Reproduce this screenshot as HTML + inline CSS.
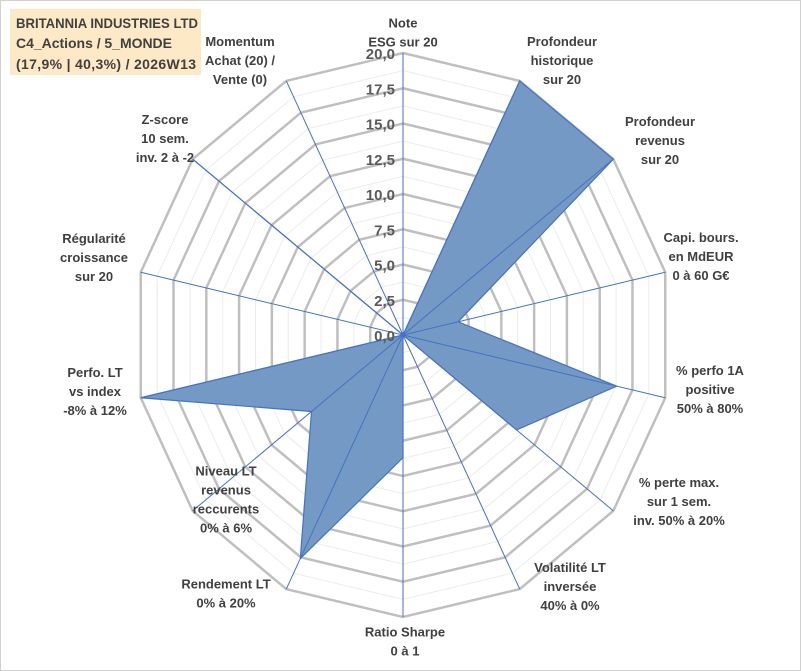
<!DOCTYPE html>
<html><head><meta charset="utf-8"><style>
body{margin:0;background:#fff}
svg{display:block;font-family:"Liberation Sans",Arial,sans-serif}
.lbl{font-size:13px;font-weight:bold;fill:#404040;text-anchor:middle}
.tick{font-size:15px;font-weight:bold;fill:#595959;text-anchor:end}
</style></head><body>
<svg id="chart" width="801" height="671">
<rect x="0.5" y="0.5" width="800" height="670" fill="#fff" stroke="#d0d0d0"/>
<rect x="10" y="9" width="191" height="66" fill="#fde9c6"/>
<text x="16" y="28" font-size="14" font-weight="bold" fill="#404040" textLength="182" lengthAdjust="spacingAndGlyphs">BRITANNIA  INDUSTRIES LTD</text>
<text x="16" y="48" font-size="14" font-weight="bold" fill="#404040" textLength="156">C4_Actions / 5_MONDE</text>
<text x="16" y="69" font-size="14" font-weight="bold" fill="#404040" textLength="180">(17,9% | 40,3%) / 2026W13</text>
<g id="grid"></g><g id="series"></g><g id="axes"></g><g id="ticks"></g><g id="labels"></g>
</svg>
<script>
const categories=[["Note","ESG sur 20"],["Profondeur","historique","sur 20"],["Profondeur","revenus","sur 20"],["Capi. bours.","en MdEUR","0 à 60 G€"],["% perfo 1A","positive","50% à 80%"],["% perte max.","sur 1 sem.","inv. 50% à 20%"],["Volatilité LT","inversée","40% à 0%"],["Ratio Sharpe","0 à 1"],["Rendement LT","0% à 20%"],["Niveau LT","revenus","reccurents","0% à 6%"],["Perfo. LT","vs index","-8% à 12%"],["Régularité","croissance","sur 20"],["Z-score","10 sem.","inv. 2 à -2"],["Momentum","Achat (20) /","Vente (0)"]];
const values=[0,20,20,4.2,16.3,10.8,0,8.7,17.6,8.7,20,0,20,0];
const tickLabels=["0,0","2,5","5,0","7,5","10,0","12,5","15,0","17,5","20,0"];
const labelPos=[[403,33],[562,61],[660,141],[701,257],[710,390],[679,502],[570,587],[405,642],[226,594],[226,500],[95,392],[94,258],[165,139],[240,61]];
const cx=403,cy=335,RX=269,RY=282,maxV=20,N=categories.length;
const ns="http://www.w3.org/2000/svg";
function pt(i,v){const a=i*2*Math.PI/N,f=v/maxV;return [cx+f*RX*Math.sin(a),cy-f*RY*Math.cos(a)];}
function mk(t,attrs,parent){const e=document.createElementNS(ns,t);for(const k in attrs)e.setAttribute(k,attrs[k]);parent.appendChild(e);return e;}
const grid=document.getElementById('grid');
for(let v=1.25;v<=20.01;v+=1.25){
 const major=Math.abs(v/2.5-Math.round(v/2.5))<1e-6;
 const pts=categories.map((c,i)=>pt(i,v).join(',')).join(' ');
 const p=mk('polygon',{points:pts,fill:'none',stroke:major?'#bfbfbf':'#ececec','stroke-width':major?2.5:1},grid);
 
 
}
const ser=document.getElementById('series');
const poly=mk('polygon',{points:values.map((v,i)=>pt(i,v).join(',')).join(' '),fill:'#7499c5',stroke:'#4472c4','stroke-width':1.2},ser);


const ax=document.getElementById('axes');
categories.forEach((c,i)=>{const [x,y]=pt(i,maxV);
 const l=mk('line',{x1:cx,y1:cy,x2:x,y2:y,stroke:'#4472c4','stroke-width':1},ax);
 
 
});
const tk=document.getElementById('ticks');
tickLabels.forEach((t,i)=>{const e=mk('text',{x:cx-8,y:cy-(i*2.5)/maxV*RY+6,class:'tick'},tk);e.textContent=t;
 
 
});
const lb=document.getElementById('labels');
categories.forEach((c,i)=>{const [x,y]=labelPos[i];
 const t=mk('text',{x:x,y:y-(c.length-1)*9.5+4,class:'lbl'},lb);
 
 
 c.forEach((s,j)=>{const ts=mk('tspan',{x:x,dy:j?19:0},t);ts.textContent=s;});
});
</script>
</body></html>
